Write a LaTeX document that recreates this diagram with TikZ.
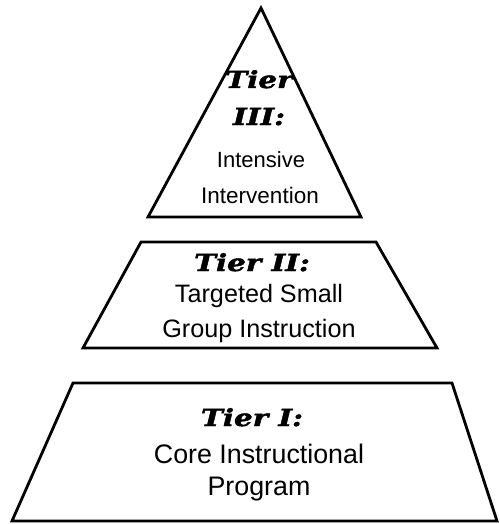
\documentclass[tikz,border=0pt]{standalone}
\usepackage{fontspec}
\setmainfont{Liberation Sans}
\newfontfamily\tierfont[FakeStretch=1.25,FakeBold=2]{DejaVu Serif}
\tikzset{
  outline/.style={draw=black, line width=2.8pt, line join=miter},
  tier/.style={anchor=base, inner sep=0pt, font=\tierfont\bfseries\itshape\fontsize{#1}{#1}\selectfont},
  body/.style={anchor=base, inner sep=0pt, font=\fontsize{#1}{#1}\selectfont},
}
\begin{document}
\begin{tikzpicture}[x=1pt,y=-1pt]
\useasboundingbox (0,0) rectangle (499,524);
% shapes
\draw[outline] (261,8) -- (361,217) -- (148,217) -- cycle;
\draw[outline] (141,242) -- (376,242) -- (437,348) -- (83,348) -- cycle;
\draw[outline] (73,383) -- (452,383) -- (497,521) -- (12,521) -- cycle;
% Tier III
\node[tier=23.5] (t3a) at (259,88) {Tier};
\node[tier=23.5] (t3b) at (259,125) {III:};
\node[body=22] (t3c) at (261,167) {Intensive};
\node[body=22.5] (t3d) at (260,203) {Intervention};
% Tier II
\node[tier=23.5] (t2a) at (252,271) {Tier II:};
\node[body=25.2] (t2b) at (259,302) {Targeted Small};
\node[body=25.2] (t2c) at (259,337) {Group Instruction};
% Tier I
\node[tier=23.5] (t1a) at (252,426) {Tier I:};
\node[body=26.8] (t1b) at (259,463) {Core Instructional};
\node[body=26.8] (t1c) at (259,495) {Program};
\end{tikzpicture}
\end{document}
